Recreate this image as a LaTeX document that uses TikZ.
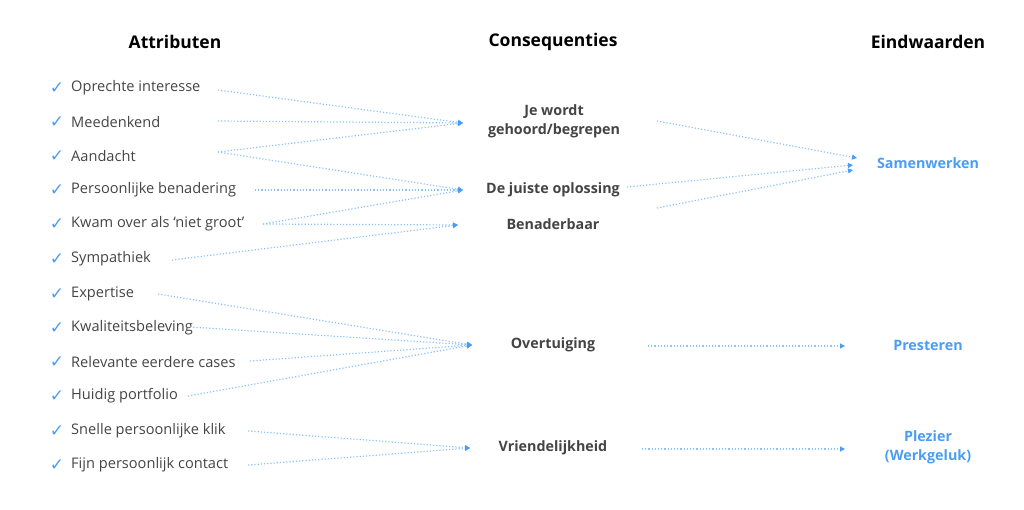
\documentclass[tikz,border=0pt]{standalone}
\usepackage{fontspec}
\setmainfont{Open Sans}
\newfontfamily\symf{DejaVu Sans}
\usetikzlibrary{arrows.meta}
\definecolor{bl}{HTML}{4A9DF5}
\definecolor{lb}{HTML}{8CC2FA}
\definecolor{tx}{HTML}{444444}
\begin{document}
\begin{tikzpicture}[x=1pt,y=-1pt,
  hd/.style={font=\fontsize{17.5}{20}\selectfont\bfseries,text=black},
  attr/.style={anchor=west,font=\fontsize{14.6}{17}\selectfont,text=tx,inner sep=0},
  ck/.style={anchor=center,font=\symf\fontsize{17}{18}\selectfont,text=bl,inner sep=0},
  cq/.style={font=\fontsize{14.3}{19}\selectfont\bfseries,text=tx,align=center,inner sep=0},
  ev/.style={font=\fontsize{14.3}{19}\selectfont\bfseries,text=bl,align=center,inner sep=0},
  ar/.style={draw=lb,line width=1.2pt,dotted,-{Triangle[length=5pt,width=5pt,color=bl]}}]
\useasboundingbox (0,0) rectangle (1024,510);
\node[hd] (h1) at (175,42) {Attributen};
\node[hd] (h2) at (553,42) {Consequenties};
\node[hd] (h3) at (928,42) {Eindwaarden};
\foreach \n/\y/\t in {a1/88/Oprechte interesse,a2/122/Meedenkend,a3/156/Aandacht,a4/190/Persoonlijke benadering,a5/224/{Kwam over als ‘niet groot’},a6/259/Sympathiek,a7/294/Expertise,a8/328/Kwaliteitsbeleving,a9/362/Relevante eerdere cases,a10/396/Huidig portfolio,a11/431/Snelle persoonlijke klik,a12/465/Fijn persoonlijk contact}{
  \node[ck] (c\n) at (57,\y) {✓};
  \node[attr] (\n) at (71,\y) {\t};
}
\node[cq] (k1) at (554,121) {Je wordt\\gehoord/begrepen};
\node[cq] (k2) at (553,190) {De juiste oplossing};
\node[cq] (k3) at (553,224) {Benaderbaar};
\node[cq] (k4) at (553,345) {Overtuiging};
\node[cq] (k5) at (553,448) {Vriendelijkheid};
\node[ev] (e1) at (928,163) {Samenwerken};
\node[ev] (e2) at (928,345) {Presteren};
\node[ev] (e3) at (928,447) {Plezier\\(Werkgeluk)};
\coordinate (t1) at (463,123); \coordinate (t2) at (463,190); \coordinate (t3) at (458,225);
\coordinate (t4) at (472,345); \coordinate (t5) at (470,448);
\coordinate (s1) at (218,90); \coordinate (s2) at (218,121); \coordinate (s3) at (218,152);
\coordinate (s4) at (255,190); \coordinate (s5) at (263,224); \coordinate (s6) at (172,260);
\coordinate (s7) at (158,294); \coordinate (s8) at (190,327); \coordinate (s9) at (250,361);
\coordinate (s10) at (188,396); \coordinate (s11) at (248,431); \coordinate (s12) at (248,465);
\draw[ar] (s1)--(t1); \draw[ar] (s2)--(t1); \draw[ar] (s3)--(t1); \draw[ar] (s3)--(t2);
\draw[ar] (s4)--(t2); \draw[ar] (s5)--(t2); \draw[ar] (s5)--(t3); \draw[ar] (s6)--(t3);
\draw[ar] (s7)--(t4); \draw[ar] (s8)--(t4); \draw[ar] (s9)--(t4); \draw[ar] (s10)--(t4);
\draw[ar] (s11)--(t5); \draw[ar] (s12)--(t5);
\coordinate (r1) at (657,121); \coordinate (r2) at (627,187); \coordinate (r3) at (657,208);
\coordinate (u1) at (857,158); \coordinate (u2) at (853,165); \coordinate (u3) at (853,170);
\draw[ar] (r1)--(u1); \draw[ar] (r2)--(u2); \draw[ar] (r3)--(u3);
\coordinate (r4) at (648,346); \coordinate (u4) at (845,346);
\coordinate (r5) at (642,449); \coordinate (u5) at (845,449);
\draw[ar] (r4)--(u4); \draw[ar] (r5)--(u5);
\end{tikzpicture}
\end{document}
